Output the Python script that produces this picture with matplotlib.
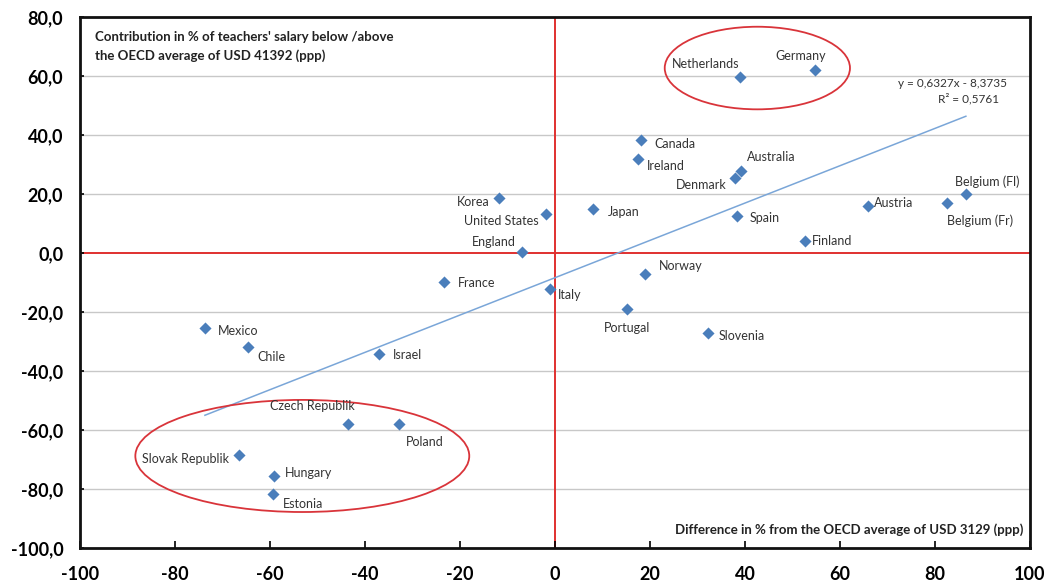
import numpy as np
import matplotlib.pyplot as plt
from matplotlib.patches import Ellipse
from matplotlib.ticker import FuncFormatter

plt.rcParams['font.family'] = ['Lato', 'DejaVu Sans']

countries = ['Netherlands', 'Germany', 'Canada', 'Ireland', 'Australia', 'Denmark',
             'Belgium (Fl)', 'Belgium (Fr)', 'Austria', 'Spain', 'Finland', 'Korea',
             'United States', 'Japan', 'England', 'France', 'Italy', 'Norway',
             'Portugal', 'Slovenia', 'Mexico', 'Chile', 'Israel', 'Czech Republik',
             'Poland', 'Slovak Republik', 'Hungary', 'Estonia']
x_diff = [38.9, 54.7, 18.1, 17.5, 39.2, 37.9, 86.5, 82.5, 65.9, 38.3, 52.6, -11.8,
          -1.9, 8.0, -6.9, -23.4, -1.1, 18.9, 15.2, 32.2, -73.7, -64.6, -37.1, -43.6,
          -32.8, -66.5, -59.2, -59.4]
y_contrib = [59.7, 62.0, 38.3, 31.9, 27.8, 25.4, 20.0, 16.9, 15.9, 12.5, 4.1, 18.6,
             13.2, 14.9, 0.3, -9.8, -12.2, -7.1, -19.0, -27.1, -25.4, -31.9, -34.2,
             -58.0, -58.0, -68.5, -75.6, -81.7]
# label offsets in points and alignment
offsets = [(0, 9, 'right'), (-10, 10, 'center'), (10, -3, 'left'), (6, -5, 'left'),
           (4, 10, 'left'), (-6, -5, 'right'), (-8, 9, 'left'), (0, -13, 'left'),
           (4, 2, 'left'), (9, -1, 'left'), (5, 0, 'left'), (-7, -3, 'right'),
           (-5, -5, 'right'), (11, -2, 'left'), (-5, 7, 'right'), (10, -1, 'left'),
           (6, -4, 'left'), (10, 6, 'left'), (0, -14, 'center'), (8, -2, 'left'),
           (9, -2, 'left'), (7, -7, 'left'), (10, -1, 'left'), (5, 13, 'right'),
           (5, -13, 'left'), (-7, -3, 'right'), (8, 2, 'left'), (7, -7, 'left')]

slope, intercept = 0.6327, -8.3735

fig = plt.figure(figsize=(10.5, 5.86), dpi=100)
ax = fig.add_axes([80/1050, 1-548/586, 950/1050, 531/586])
ax.set_xlim(-100, 100)
ax.set_ylim(-100, 80)

ax.set_yticks(np.arange(-100, 81, 20))
ax.set_xticks(np.arange(-100, 101, 20))
for yy in np.arange(-80, 61, 20):
    if yy != 0:
        ax.axhline(yy, color='#c8c8c8', lw=1, zorder=0)
ax.axhline(0, color='#e0302f', lw=1.4, zorder=1)
ax.axvline(0, color='#e0302f', lw=1.4, zorder=1)

xs = np.array([min(x_diff), max(x_diff)])
ax.plot(xs, slope*xs + intercept, color='#7aa6d8', lw=1.1, zorder=2)

ax.scatter(x_diff, y_contrib, marker='D', s=38, color='#4a7ebb', zorder=3, linewidths=0)

for c, xv, yv, (dx, dy, ha) in zip(countries, x_diff, y_contrib, offsets):
    ax.annotate(c, (xv, yv), xytext=(dx, dy), textcoords='offset points',
                ha=ha, va='center', fontsize=9, color='#333333')

ax.add_patch(Ellipse((42.6, 62.7), 39, 28, fill=False, edgecolor='#d9343a', lw=1.3, zorder=2))
ax.add_patch(Ellipse((-53.2, -68.8), 70.3, 38, fill=False, edgecolor='#d9343a', lw=1.3, zorder=2))

ax.text(0.976, 0.875, 'y = 0,6327x - 8,3735', transform=ax.transAxes, ha='right',
        va='center', fontsize=8.5, color='#333333')
ax.text(0.935, 0.847, 'R² = 0,5761', transform=ax.transAxes, ha='center',
        va='center', fontsize=8.5, color='#333333')

ax.text(0.016, 0.973, "Contribution in % of teachers' salary below /above\nthe OECD average of USD 41392 (ppp)",
        transform=ax.transAxes, ha='left', va='top', fontsize=9.5, fontweight='bold',
        color='#222222', linespacing=1.6)
ax.text(0.993, 0.034, 'Difference in % from the OECD average of USD 3129 (ppp)',
        transform=ax.transAxes, ha='right', va='center', fontsize=9.5, fontweight='bold',
        color='#222222')

ax.yaxis.set_major_formatter(FuncFormatter(lambda v, p: f'{v:.1f}'.replace('.', ',')))
ax.xaxis.set_major_formatter(FuncFormatter(lambda v, p: f'{v:.0f}'))
ax.tick_params(axis='x', direction='in', length=5, width=1.2, labelsize=13, pad=13)
ax.tick_params(axis='y', direction='in', length=3, width=1.2, labelsize=13, pad=12)
for lab in ax.get_xticklabels() + ax.get_yticklabels():
    lab.set_fontweight('bold')
for s in ax.spines.values():
    s.set_linewidth(2)
    s.set_color('#111111')

fig.savefig('out.png', dpi=100)
